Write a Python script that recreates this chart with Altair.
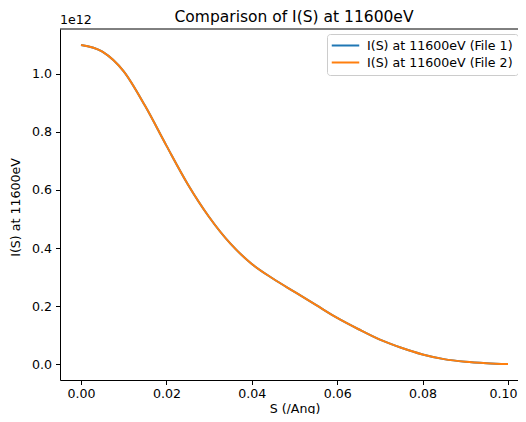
import altair as alt
import pandas as pd

# ---- data ----
S_VALUES = [0.000, 0.005, 0.010, 0.015, 0.020, 0.025, 0.030, 0.035, 0.040, 0.045,
            0.050, 0.055, 0.060, 0.065, 0.070, 0.075, 0.080, 0.085, 0.090, 0.095, 0.100]
# intensities in units of 1e12
I_FILE1 = [1.100, 1.077, 1.009, 0.890, 0.753, 0.620, 0.507, 0.415, 0.345, 0.294,
           0.249, 0.204, 0.159, 0.120, 0.084, 0.056, 0.033, 0.017, 0.008, 0.003, 0.000]
I_FILE2 = [1.100, 1.077, 1.009, 0.890, 0.753, 0.620, 0.507, 0.415, 0.345, 0.294,
           0.249, 0.204, 0.159, 0.120, 0.084, 0.056, 0.033, 0.017, 0.008, 0.003, 0.000]
SERIES = ["I(S) at 11600eV (File 1)", "I(S) at 11600eV (File 2)"]
COLORS = ["#1f77b4", "#ff7f0e"]
X_TICKS = [0.00, 0.02, 0.04, 0.06, 0.08, 0.10]
Y_TICKS = [0.0, 0.2, 0.4, 0.6, 0.8, 1.0]
SCALE_FACTOR = 1e12

rows = []
for s, v in zip(S_VALUES, I_FILE1):
    rows.append({"S": s, "I": v * SCALE_FACTOR, "series": SERIES[0]})
for s, v in zip(S_VALUES, I_FILE2):
    rows.append({"S": s, "I": v * SCALE_FACTOR, "series": SERIES[1]})
df = pd.DataFrame(rows)

FONT = "DejaVu Sans"
FS = 12.6
W, H = 458, 351

x_enc = alt.X(
    "S:Q",
    scale=alt.Scale(domain=[-0.00492, 0.10234], nice=False, zero=False),
    axis=alt.Axis(values=X_TICKS, format=".2f", title="S (/Ang)",
                  titleX=234.5, titleY=32, titleBaseline="alphabetic", titleAlign="center",
                  labelPadding=3,
                  labelOffset={"condition": {"test": "datum.value > 0.099", "value": -5},
                               "value": 0}),
)
y_enc = alt.Y(
    "I:Q",
    scale=alt.Scale(domain=[-0.055 * SCALE_FACTOR, 1.155 * SCALE_FACTOR], nice=False, zero=False),
    axis=alt.Axis(values=[t * SCALE_FACTOR for t in Y_TICKS],
                  labelExpr="format(datum.value / 1e12, '.1f')",
                  title="I(S) at 11600eV",
                  titleX=-41, titleY=178, titleAngle=270, titleAlign="center",
                  titleBaseline="alphabetic", labelPadding=4),
)
color_enc = alt.Color(
    "series:N",
    scale=alt.Scale(domain=SERIES, range=COLORS),
    legend=alt.Legend(
        title=None, orient="none", legendX=267, legendY=5,
        labelFont=FONT, labelFontSize=FS, labelColor="black",
        symbolType="M-2.5,0H2.5", symbolSize=121, symbolStrokeWidth=2,
        strokeColor="#cccccc", fillColor="white", padding=5, cornerRadius=3,
        rowPadding=3, symbolOffset=7, labelOffset=15,
    ),
)

base = alt.Chart(df)
line1 = base.transform_filter(alt.datum.series == SERIES[0]).mark_line(
    strokeWidth=2, interpolate="monotone"
).encode(x=x_enc, y=y_enc, color=color_enc)
line2 = base.transform_filter(alt.datum.series == SERIES[1]).mark_line(
    strokeWidth=2, interpolate="monotone"
).encode(x=x_enc, y=y_enc, color=color_enc)

# top spine (the right spine lies beyond the visible area in the reference)
top_spine = alt.Chart(pd.DataFrame({"k": [0]})).mark_rule(
    color="black", strokeWidth=1
).encode(x=alt.value(0), x2=alt.value(W), y=alt.value(0))

offset_text = alt.Chart(pd.DataFrame({"t": ["1e12"]})).mark_text(
    align="left", baseline="alphabetic", font=FONT, fontSize=FS, color="black"
).encode(x=alt.value(0), y=alt.value(-5), text="t:N")

chart = alt.layer(line1, line2, top_spine, offset_text).properties(
    width=W,
    height=H,
    title=alt.TitleParams(
        "Comparison of I(S) at 11600eV", font=FONT, fontSize=15.5, fontWeight="normal",
        color="black", anchor="middle", baseline="alphabetic", offset=0, dy=23, dx=5,
    ),
    autosize=alt.AutoSizeParams(type="none"),
    padding={"left": 52, "top": 21, "right": 0, "bottom": 34},
).configure_view(
    strokeWidth=0
).configure_axis(
    grid=False, domainColor="black", domainWidth=1, tickColor="black", tickWidth=1,
    tickSize=4.5, labelFont=FONT, labelFontSize=FS, labelColor="black",
    titleFont=FONT, titleFontSize=FS, titleColor="black", titleFontWeight="normal",
)

chart.save("out.html", embed_options={"renderer": "svg", "actions": False})
